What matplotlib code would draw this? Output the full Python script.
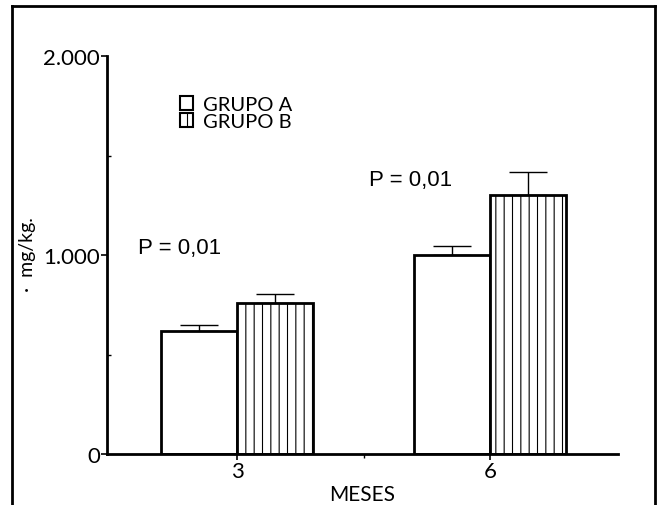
import matplotlib
matplotlib.use("Agg")
import matplotlib.pyplot as plt
from matplotlib.patches import Patch
from matplotlib.lines import Line2D

# Datos
meses = ["3", "6"]
grupo_a = [620, 1000]
grupo_b = [760, 1300]
err_a = [30, 45]
err_b = [45, 115]
p_textos = ["P = 0,01", "P = 0,01"]
y_ticks = [0, 1000, 2000]
y_ticklabels = ["0", "1.000", "2.000"]

plt.rcParams['font.family'] = ['Lato', 'DejaVu Sans']
plt.rcParams['hatch.linewidth'] = 0.8

W, H = 660, 506
fig = plt.figure(figsize=(W / 100, H / 100), dpi=100)
ax = fig.add_axes([107 / W, 1 - 455 / H, (618 - 107) / W, (455 - 57) / H])

x = list(range(len(meses)))
ancho = 0.3

ax.bar([i - ancho / 2 for i in x], grupo_a, ancho, color='white',
       edgecolor='black', linewidth=2, zorder=2)
ax.bar([i + ancho / 2 for i in x], grupo_b, ancho, color='white',
       edgecolor='black', linewidth=2, hatch='||', zorder=2)

ax.errorbar([i - ancho / 2 for i in x], grupo_a, yerr=[[0] * len(x), err_a],
            fmt='none', ecolor='black', elinewidth=1, capsize=14, capthick=1, zorder=1)
ax.errorbar([i + ancho / 2 for i in x], grupo_b, yerr=[[0] * len(x), err_b],
            fmt='none', ecolor='black', elinewidth=1, capsize=14, capthick=1, zorder=1)

ax.set_xlim(-0.514, 1.506)
ax.set_ylim(0, 2000)
ax.set_xticks(x)
ax.set_xticklabels(meses, fontsize=16)
ax.set_xticks([0.5], minor=True)
ax.set_yticks(y_ticks)
ax.set_yticklabels(y_ticklabels, fontsize=16)
ax.set_yticks([500, 1500], minor=True)
ax.tick_params(axis='both', which='major', length=4, width=1.2, pad=1)
ax.tick_params(axis='both', which='minor', length=3, width=1)
ax.tick_params(axis='y', which='minor', direction='in')

for s in ['top', 'right']:
    ax.spines[s].set_visible(False)
for s in ['left', 'bottom']:
    ax.spines[s].set_linewidth(2)

ax.set_xlabel("MESES", fontsize=15, labelpad=2)
fig.text(28 / W, 1 - 255 / H, "·  mg/kg.", rotation=90, fontsize=14,
         ha='center', va='center')

# textos de significancia
ax.text(-0.39, 1010, p_textos[0], fontsize=16, family='Liberation Sans')
ax.text(0.52, 1350, p_textos[1], fontsize=16, family='Liberation Sans')

# leyenda
handles = [Patch(facecolor='white', edgecolor='black', linewidth=1.5, label='GRUPO A'),
           Patch(facecolor='white', edgecolor='black', linewidth=1.5, hatch='||', label='GRUPO B')]
fig.legend(handles=handles, loc='upper left', bbox_to_anchor=(180 / W, 1 - 97 / H),
           frameon=False, fontsize=14.5, handlelength=0.65, handleheight=0.65,
           labelspacing=0.0, handletextpad=0.5, borderaxespad=0, borderpad=0)

# marco exterior
fig.add_artist(Line2D([12 / W, 655 / W], [1 - 7 / H, 1 - 7 / H], color='black', lw=2))
fig.add_artist(Line2D([12 / W, 12 / W], [0, 1 - 7 / H], color='black', lw=2))
fig.add_artist(Line2D([655 / W, 655 / W], [0, 1 - 7 / H], color='black', lw=2))

fig.savefig("out.png", dpi=100)
